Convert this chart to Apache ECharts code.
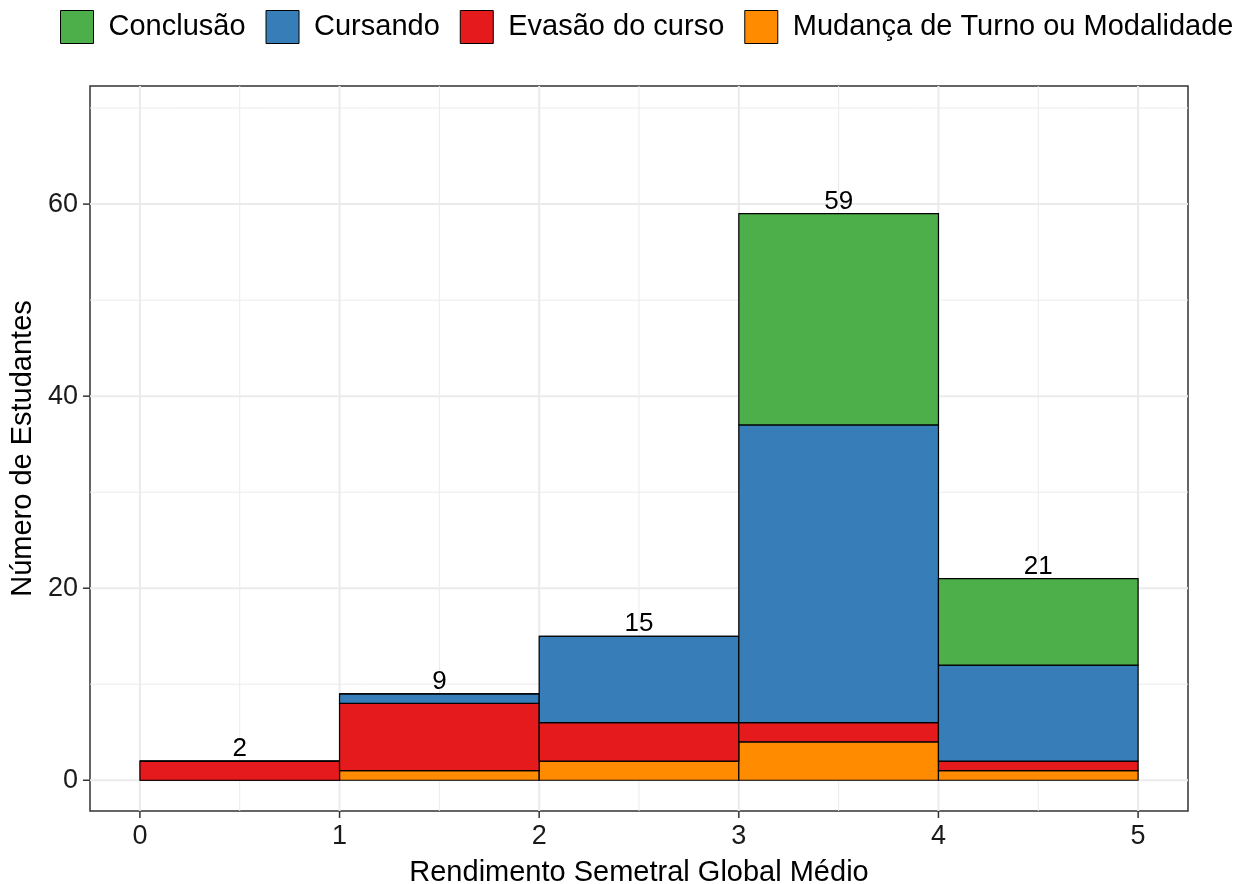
<!DOCTYPE html>
<html>
<head>
<meta charset="utf-8">
<script src="https://cdn.jsdelivr.net/npm/echarts@6/dist/echarts.min.js"></script>
<style>
  html, body { margin: 0; padding: 0; background: #fff; }
  #chart { width: 1237px; height: 884px; }
</style>
</head>
<body>
<div id="chart"></div>
<script>
// ---- data ----
const binStart = [0, 1, 2, 3, 4];
const binEnd = [1, 2, 3, 4, 5];
const categories = ['Conclusão', 'Cursando', 'Evasão do curso', 'Mudança de Turno ou Modalidade'];
const mudanca = [0, 1, 2, 4, 1];
const evasao = [2, 7, 4, 2, 1];
const cursando = [0, 1, 9, 31, 10];
const conclusao = [0, 0, 0, 22, 9];
const xTicks = [0, 1, 2, 3, 4, 5];
const xMinor = [0.5, 1.5, 2.5, 3.5, 4.5];
const yTicks = [0, 20, 40, 60];
const yMinor = [10, 30, 50, 70];

const colors = {
  'Conclusão': '#4DAF4A',
  'Cursando': '#377EB8',
  'Evasão do curso': '#E41A1C',
  'Mudança de Turno ou Modalidade': '#FF8C00'
};

// stacking order bottom -> top
const stackOrder = [
  ['Mudança de Turno ou Modalidade', mudanca],
  ['Evasão do curso', evasao],
  ['Cursando', cursando],
  ['Conclusão', conclusao]
];

const base = binStart.map(() => 0);
const stackedData = {};
stackOrder.forEach(([name, vals]) => {
  stackedData[name] = vals.map((v, i) => {
    const row = [binStart[i], binEnd[i], base[i], base[i] + v];
    base[i] += v;
    return row;
  });
});
const totals = base.slice();

const FONT = 'Liberation Sans, Arial, sans-serif';
const X_MIN = -0.25, X_MAX = 5.25, Y_MIN = -3.2, Y_MAX = 72.3;
const TICK_LEN = 7;

function rectRender(color) {
  return function (params, api) {
    const p0 = api.coord([api.value(0), api.value(2)]);
    const p1 = api.coord([api.value(1), api.value(3)]);
    return {
      type: 'rect',
      shape: { x: p0[0], y: p1[1], width: p1[0] - p0[0], height: p0[1] - p1[1] },
      style: { fill: color, stroke: '#000', lineWidth: 1.2 }
    };
  };
}

const barSeries = stackOrder.map(([name]) => ({
  name: name,
  type: 'custom',
  renderItem: rectRender(colors[name]),
  data: stackedData[name],
  encode: { x: [0, 1], y: [2, 3] },
  itemStyle: { color: colors[name], borderColor: '#000', borderWidth: 1 },
  z: 3,
  silent: true
}));

// grid lines (drawn through axis scales)
const gridSeries = {
  name: 'grid',
  type: 'custom',
  silent: true,
  z: 1,
  clip: true,
  data: [0],
  renderItem: function (params, api) {
    const children = [];
    const xs = api.coord([X_MIN, 0])[0], xe = api.coord([X_MAX, 0])[0];
    const yb = api.coord([0, Y_MIN])[1], yt = api.coord([0, Y_MAX])[1];
    yMinor.forEach(v => {
      const y = api.coord([0, v])[1];
      children.push({ type: 'line', shape: { x1: xs, y1: y, x2: xe, y2: y }, style: { stroke: '#ebebeb', lineWidth: 1 } });
    });
    xMinor.forEach(v => {
      const x = api.coord([v, 0])[0];
      children.push({ type: 'line', shape: { x1: x, y1: yb, x2: x, y2: yt }, style: { stroke: '#ebebeb', lineWidth: 1 } });
    });
    yTicks.forEach(v => {
      const y = api.coord([0, v])[1];
      children.push({ type: 'line', shape: { x1: xs, y1: y, x2: xe, y2: y }, style: { stroke: '#ebebeb', lineWidth: 2 } });
    });
    xTicks.forEach(v => {
      const x = api.coord([v, 0])[0];
      children.push({ type: 'line', shape: { x1: x, y1: yb, x2: x, y2: yt }, style: { stroke: '#ebebeb', lineWidth: 2 } });
    });
    return { type: 'group', children: children };
  }
};

// outside axis ticks
const tickSeries = {
  name: 'ticks',
  type: 'custom',
  silent: true,
  z: 5,
  clip: false,
  data: [0],
  renderItem: function (params, api) {
    const children = [];
    const xl = api.coord([X_MIN, 0])[0];
    const yb = api.coord([0, Y_MIN])[1];
    yTicks.forEach(v => {
      const y = api.coord([0, v])[1];
      children.push({ type: 'line', shape: { x1: xl - TICK_LEN, y1: y, x2: xl, y2: y }, style: { stroke: '#333', lineWidth: 1.5 } });
    });
    xTicks.forEach(v => {
      const x = api.coord([v, 0])[0];
      children.push({ type: 'line', shape: { x1: x, y1: yb, x2: x, y2: yb + TICK_LEN }, style: { stroke: '#333', lineWidth: 1.5 } });
    });
    return { type: 'group', children: children };
  }
};

const labelSeries = {
  name: 'labels',
  type: 'custom',
  silent: true,
  z: 4,
  clip: false,
  data: totals.map((t, i) => [(binStart[i] + binEnd[i]) / 2, t]),
  encode: { x: 0, y: 1 },
  renderItem: function (params, api) {
    const p = api.coord([api.value(0), api.value(1)]);
    return {
      type: 'text',
      style: {
        x: p[0], y: p[1] + 1,
        text: String(api.value(1)),
        fill: '#000',
        font: '26px ' + FONT,
        textAlign: 'center',
        textVerticalAlign: 'bottom'
      }
    };
  }
};

const chart = echarts.init(document.getElementById('chart'), null, { renderer: 'canvas' });
chart.setOption({
  animation: false,
  backgroundColor: '#fff',
  textStyle: { fontFamily: FONT },
  legend: {
    data: categories,
    top: 10,
    left: 60,
    width: 1177,
    orient: 'horizontal',
    icon: 'rect',
    itemWidth: 33,
    itemHeight: 33,
    itemGap: 20,
    padding: 0,
    itemStyle: { borderColor: '#000', borderWidth: 1 },
    textStyle: { fontSize: 29, color: '#000', fontFamily: FONT, padding: [0, 0, 0, 10] },
    selectedMode: false
  },
  grid: {
    left: 90, right: 49, top: 86, bottom: 73,
    show: true, borderColor: '#333', borderWidth: 1.5, backgroundColor: '#fff',
    containLabel: false,
    outerBoundsMode: 'none'
  },
  xAxis: {
    type: 'value',
    min: X_MIN, max: X_MAX,
    name: 'Rendimento Semetral Global Médio',
    nameLocation: 'middle',
    nameGap: 47,
    nameTextStyle: { fontSize: 29, color: '#000', fontFamily: FONT },
    axisLine: { show: false, onZero: false },
    splitLine: { show: false },
    axisTick: { show: false },
    axisLabel: { fontSize: 27, color: '#1a1a1a', margin: 12, customValues: xTicks, fontFamily: FONT }
  },
  yAxis: {
    type: 'value',
    min: Y_MIN, max: Y_MAX,
    name: 'Número de Estudantes',
    nameLocation: 'middle',
    nameGap: 48,
    nameRotate: 90,
    nameTextStyle: { fontSize: 29, color: '#000', fontFamily: FONT },
    axisLine: { show: false, onZero: false },
    splitLine: { show: false },
    axisTick: { show: false },
    axisLabel: { fontSize: 27, color: '#1a1a1a', margin: 12, customValues: yTicks, fontFamily: FONT }
  },
  series: [gridSeries].concat(barSeries).concat([labelSeries, tickSeries])
});
</script>
</body>
</html>
